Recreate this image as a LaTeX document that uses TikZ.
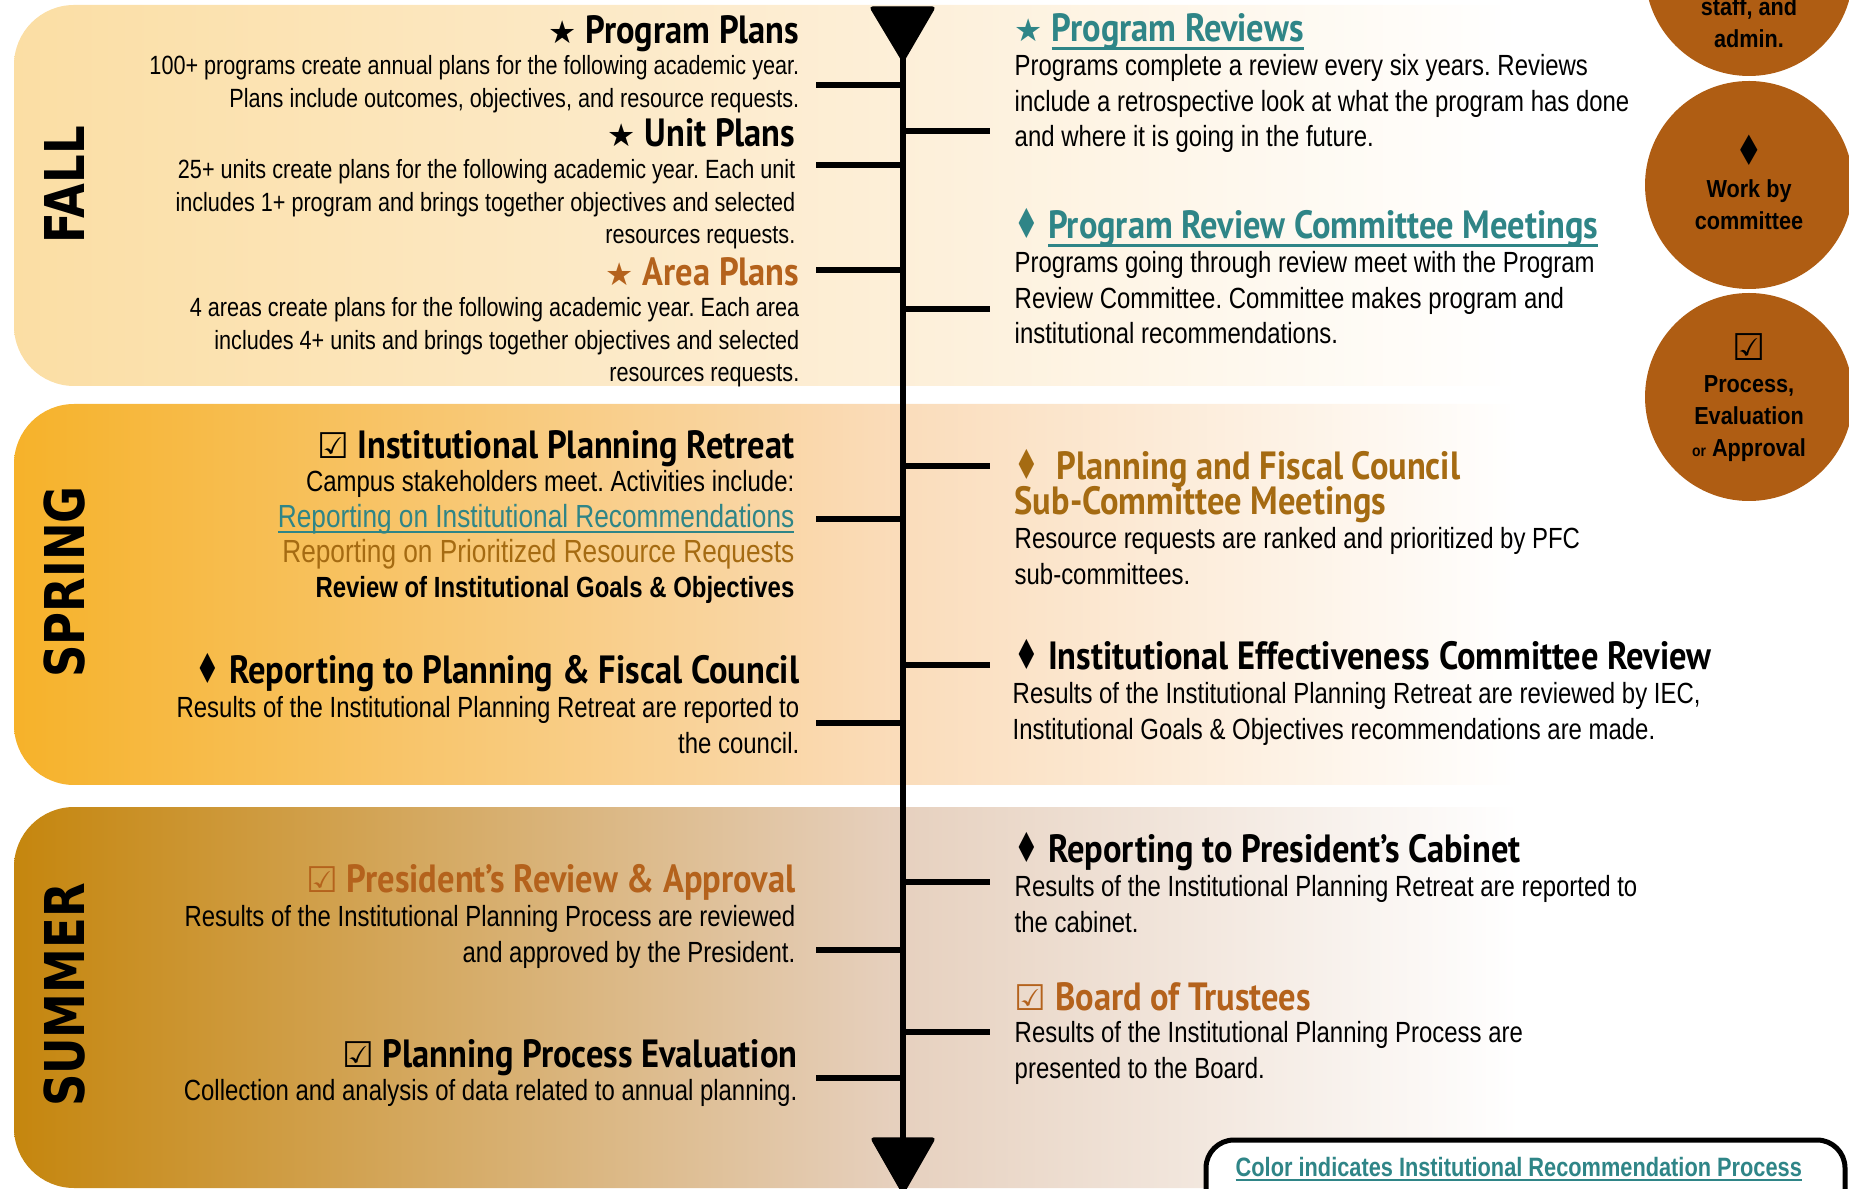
\documentclass[tikz,border=0pt]{standalone}
\usepackage{fontspec}
\setmainfont{Liberation Sans}[FakeStretch=0.82]
\newfontfamily\titlefont{PT Sans}[FakeStretch=0.875]
\newfontfamily\seasonfont{DejaVu Sans}[FakeStretch=0.82]
\newfontfamily\symfont{DejaVu Sans}
\newfontfamily\circfont{Liberation Sans}[FakeStretch=0.88]
\frenchspacing

\definecolor{recteal}{HTML}{2F8587}
\definecolor{planorange}{HTML}{B4621C}
\definecolor{pfcgold}{HTML}{A56B12}
\definecolor{circbrown}{HTML}{AF5D13}
\definecolor{fallL}{HTML}{FBDEA4}
\definecolor{fallM}{HTML}{FDEFD8}
\definecolor{springL}{HTML}{F6B22A}
\definecolor{springM}{HTML}{FADCBA}
\definecolor{summerL}{HTML}{C5860E}
\definecolor{summerM}{HTML}{E6D0BE}

\pgfdeclarehorizontalshading{fallshade}{100bp}{color(0bp)=(fallL); color(25bp)=(fallL); color(49bp)=(fallM); color(66bp)=(white); color(100bp)=(white)}
\pgfdeclarehorizontalshading{springshade}{100bp}{color(0bp)=(springL); color(25bp)=(springL); color(49bp)=(springM); color(66bp)=(white); color(100bp)=(white)}
\pgfdeclarehorizontalshading{summershade}{100bp}{color(0bp)=(summerL); color(25bp)=(summerL); color(49bp)=(summerM); color(66bp)=(white); color(100bp)=(white)}

\newcommand{\uln}[1]{\setbox0=\hbox{#1}\rlap{\rule[-0.2em]{\wd0}{0.07em}}\box0}
\newcommand{\sstar}{{\symfont\scalebox{0.8}{★}}}
\newcommand{\sdiam}{{\symfont\scalebox{0.7}[1.05]{♦}}}
\newcommand{\scheck}{{\symfont\scalebox{0.9}{☑}}}

\tikzstyle{band} = [rounded corners=0.6cm]
\tikzstyle{tick} = [draw, line width=0.055cm]
\tikzstyle{circ} = [fill=circbrown]
\tikzstyle{season} = [rotate=90, inner sep=0, font=\seasonfont\bfseries\fontsize{15.6}{16}\selectfont]
\tikzstyle{ltitle} = [anchor=base east, inner sep=0, font=\titlefont\bfseries\fontsize{11.2}{10}\selectfont]
\tikzstyle{rtitle} = [anchor=base west, inner sep=0, font=\titlefont\bfseries\fontsize{11.2}{10}\selectfont]
\tikzstyle{fbody} = [anchor=north east, inner sep=0, align=right, font=\fontsize{7.5}{9.2}\selectfont]
\tikzstyle{lbody} = [anchor=north east, inner sep=0, align=right, font=\fontsize{8.3}{10}\selectfont]
\tikzstyle{rbody} = [anchor=north west, inner sep=0, align=left, font=\fontsize{8.3}{10}\selectfont]
\tikzstyle{circtext} = [align=center, inner sep=0, font=\circfont\bfseries\fontsize{7}{9.1}\selectfont]

\begin{document}
\begin{tikzpicture}[x=0.01cm,y=-0.01cm]
\useasboundingbox (0,0) rectangle (1849,1189);
\clip (0,0) rectangle (1849,1189);
%bands
\shade[band,shading=fallshade] (14,5) rectangle (1849,386);% fall
\shade[band,shading=springshade] (14,404) rectangle (1849,785);% spring
\shade[band,shading=summershade] (14,807) rectangle (1849,1188);% summer

\node[season] (fall) at (65,185) {FALL};
\node[season] (spring) at (65,582) {SPRING};
\node[season] (summer) at (65,995) {SUMMER};

%timeline
\coordinate (ttop) at (903,30);
\coordinate (tbot) at (903,1160);
\draw[line width=0.06cm] (ttop) -- (tbot);
\filldraw[rounded corners=0.03cm] (870,7) -- (935,7) -- (903,62) -- cycle;% top arrow
\filldraw[rounded corners=0.03cm] (871,1138) -- (935,1138) -- (903,1194) -- cycle;% bottom arrow
\foreach \y in {85,165,270,519,723,950,1078}
  \draw[tick] (816,\y) -- (903,\y);% left
\foreach \y in {131,309,466,665,882,1032}
  \draw[tick] (903,\y) -- (990,\y);% right

%circles
\fill[circ] (1749,-28) circle (104);
\fill[circ] (1749,185) circle (104);
\fill[circ] (1749,397) circle (104);
\node[circtext] (c1) at (1749,23) {staff, and\\admin.};
\node[circtext] (c2) at (1749,182) {{\symfont\scalebox{1.25}[1.7]{♦}}\\Work by\\committee};
\node[circtext] (c3) at (1749,398) {{\symfont\scalebox{1.5}{☑}}\\Process,\\Evaluation\\{\fontsize{4.5}{5}\selectfont or} Approval};

%fall left
\node[ltitle] (pp) at (800,44) {\sstar\ Program Plans};
\node[fbody] (ppb) at (800,55) {100+ programs create annual plans for the following academic year.\\Plans include outcomes, objectives, and resource requests.};
\node[ltitle] (up) at (796,147) {\sstar\ Unit Plans};
\node[fbody] (upb) at (796,159) {25+ units create plans for the following academic year. Each unit\\includes 1+ program and brings together objectives and selected\\resources requests.};
\node[ltitle,planorange] (ap) at (800,286) {\sstar\ Area Plans};
\node[fbody] (apb) at (800,297) {4 areas create plans for the following academic year. Each area\\includes 4+ units and brings together objectives and selected\\resources requests.};
%fall right
\node[rtitle,recteal] (pr) at (1014,42) {\sstar\ \uln{Program Reviews}};
\node[rbody] (prb) at (1014,54) {Programs complete a review every six years. Reviews\\include a retrospective look at what the program has done\\and where it is going in the future.};
\node[rtitle,recteal] (prc) at (1014,239) {\sdiam\ \uln{Program Review Committee Meetings}};
\node[rbody] (prcb) at (1014,251) {Programs going through review meet with the Program\\Review Committee. Committee makes program and\\institutional recommendations.};

%spring left
\node[ltitle] (ipr) at (795,459) {\scheck\ Institutional Planning Retreat};
\node[lbody] (iprb) at (795,470) {Campus stakeholders meet. Activities include:\\
  {\fontsize{9.1}{10}\selectfont\textcolor{recteal}{\uln{Reporting on Institutional Recommendations}}}\\
  {\fontsize{9.1}{10}\selectfont\textcolor{pfcgold}{Reporting on Prioritized Resource Requests}}\\
  \textbf{Review of Institutional Goals \& Objectives}};
\node[ltitle] (rpf) at (800,684) {\sdiam\ Reporting to Planning \& Fiscal Council};
\node[lbody] (rpfb) at (800,696) {Results of the Institutional Planning Retreat are reported to\\the council.};
%spring right
\node[rtitle,pfcgold] (pfc) at (1014,480) {\sdiam\ \ Planning and Fiscal Council};
\node[rtitle,pfcgold] (pfc2) at (1014,515) {Sub-Committee Meetings};
\node[rbody] (pfcb) at (1014,527) {Resource requests are ranked and prioritized by PFC\\sub-committees.};
\node[rtitle] (iec) at (1014,670) {\sdiam\ Institutional Effectiveness Committee Review};
\node[rbody] (iecb) at (1012,682) {Results of the Institutional Planning Retreat are reviewed by IEC,\\Institutional Goals \& Objectives recommendations are made.};

%summer left
\node[ltitle,planorange] (pra) at (796,892) {\scheck\ President’s Review \& Approval};
\node[lbody] (prab) at (796,905) {Results of the Institutional Planning Process are reviewed\\and approved by the President.};
\node[ltitle] (ppe) at (798,1067) {\scheck\ Planning Process Evaluation};
\node[lbody] (ppeb) at (798,1079) {Collection and analysis of data related to annual planning.};
%summer right
\node[rtitle] (rpc) at (1014,863) {\sdiam\ Reporting to President’s Cabinet};
\node[rbody] (rpcb) at (1014,875) {Results of the Institutional Planning Retreat are reported to\\the cabinet.};
\node[rtitle,planorange] (bot) at (1014,1010) {\scheck\ Board of Trustees};
\node[rbody] (botb) at (1014,1021) {Results of the Institutional Planning Process are\\presented to the Board.};

%legend
\draw[line width=0.05cm, rounded corners=0.28cm, fill=white] (1206,1140) rectangle (1845,1260);
\node[anchor=base west, inner sep=0, recteal, font=\bfseries\fontsize{7.55}{8}\selectfont] (key) at (1235,1176) {\uln{Color indicates Institutional Recommendation Process}};
\end{tikzpicture}
\end{document}
